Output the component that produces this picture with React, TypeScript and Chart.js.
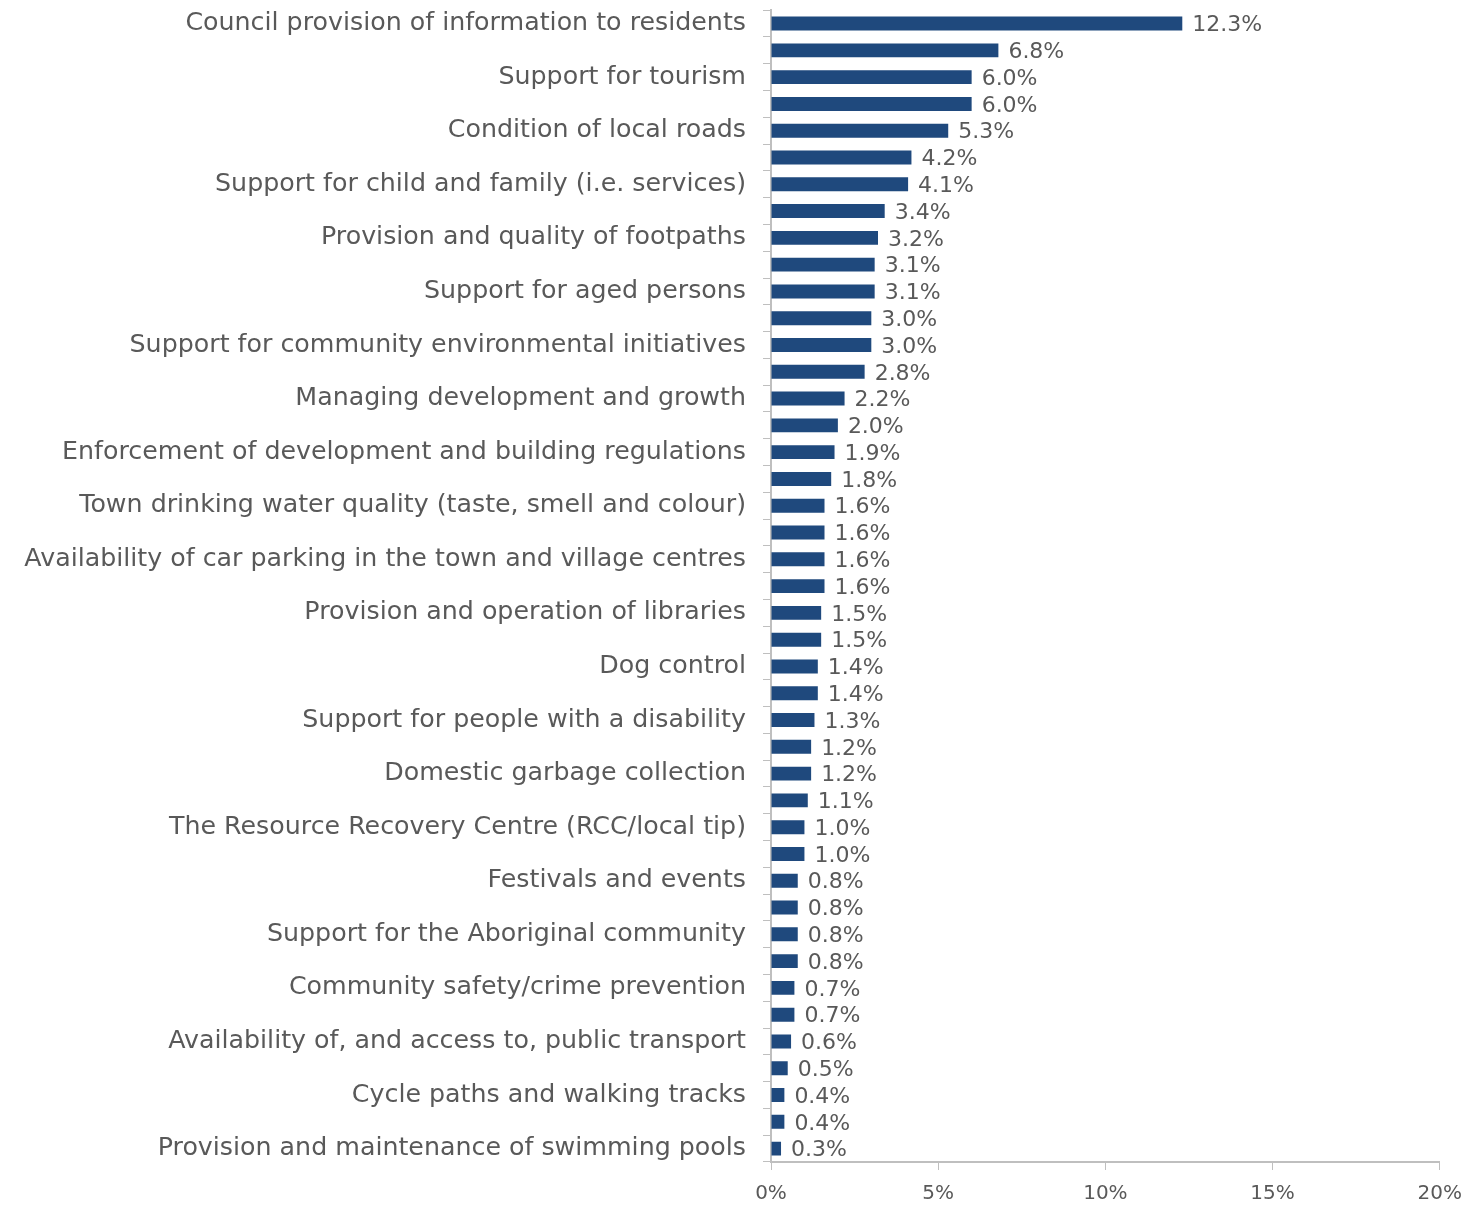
import React, { useEffect, useRef } from "react";
import { Chart, registerables } from "chart.js";

Chart.register(...registerables);

const categories: string[] = [
  "Council provision of information to residents", "",
  "Support for tourism", "",
  "Condition of local roads", "",
  "Support for child and family (i.e. services)", "",
  "Provision and quality of footpaths", "",
  "Support for aged persons", "",
  "Support for community environmental initiatives", "",
  "Managing development and growth", "",
  "Enforcement of development and building regulations", "",
  "Town drinking water quality (taste, smell and colour)", "",
  "Availability of car parking in the town and village centres", "",
  "Provision and operation of libraries", "",
  "Dog control", "",
  "Support for people with a disability", "",
  "Domestic garbage collection", "",
  "The Resource Recovery Centre (RCC/local tip)", "",
  "Festivals and events", "",
  "Support for the Aboriginal community", "",
  "Community safety/crime prevention", "",
  "Availability of, and access to, public transport", "",
  "Cycle paths and walking tracks", "",
  "Provision and maintenance of swimming pools",
];

const values: number[] = [
  12.3, 6.8, 6.0, 6.0, 5.3, 4.2, 4.1, 3.4, 3.2, 3.1, 3.1, 3.0, 3.0, 2.8, 2.2,
  2.0, 1.9, 1.8, 1.6, 1.6, 1.6, 1.6, 1.5, 1.5, 1.4, 1.4, 1.3, 1.2, 1.2, 1.1,
  1.0, 1.0, 0.8, 0.8, 0.8, 0.8, 0.7, 0.7, 0.6, 0.5, 0.4, 0.4, 0.3,
];

const xTicks: number[] = [0, 5, 10, 15, 20];

const FONT = "'DejaVu Sans', sans-serif";
const TEXT = "#595959";
const BAR = "#1F497D";
const AXIS = "#BFBFBF";

const labelPlugin = {
  id: "valueLabels",
  afterDatasetsDraw(chart: any) {
    const ctx = chart.ctx;
    const meta = chart.getDatasetMeta(0);
    ctx.save();
    ctx.font = `22px ${FONT}`;
    ctx.fillStyle = TEXT;
    ctx.textAlign = "left";
    ctx.textBaseline = "middle";
    meta.data.forEach((bar: any, i: number) => {
      const v = chart.data.datasets[0].data[i] as number;
      ctx.fillText(v.toFixed(1) + "%", bar.x + 10, bar.y + 2);
    });
    ctx.restore();
  },
};

export default function App() {
  const ref = useRef<HTMLCanvasElement>(null);
  useEffect(() => {
    document.body.style.margin = "0";
    if (!ref.current) return;
    const chart = new Chart(ref.current, {
      type: "bar",
      data: {
        labels: categories,
        datasets: [
          {
            data: values,
            backgroundColor: BAR,
            borderWidth: 0,
            barPercentage: 0.52,
            categoryPercentage: 1,
          },
        ],
      },
      options: {
        indexAxis: "y",
        animation: false,
        responsive: true,
        maintainAspectRatio: false,
        layout: { padding: 0 },
        plugins: { legend: { display: false }, tooltip: { enabled: false } },
        scales: {
          x: {
            min: 0,
            max: 20,
            afterBuildTicks: (axis: any) => {
              axis.ticks = xTicks.map((v) => ({ value: v }));
            },
            ticks: {
              color: TEXT,
              font: { family: FONT, size: 20 },
              padding: 12,
              callback: (v: any) => v + "%",
            },
            grid: {
              drawOnChartArea: false,
              drawTicks: true,
              tickLength: 8,
              color: AXIS,
            },
            border: { display: true, color: AXIS, width: 2 },
            afterFit: (axis: any) => {
              axis.height = 45;
            },
          },
          y: {
            ticks: {
              autoSkip: false,
              color: TEXT,
              font: { family: FONT, size: 25.3 },
              padding: 17,
            },
            grid: {
              offset: true,
              drawOnChartArea: false,
              drawTicks: true,
              tickLength: 8,
              color: AXIS,
            },
            border: { display: true, color: AXIS, width: 2 },
            afterFit: (axis: any) => {
              axis.width = 771;
            },
          },
        },
      },
      plugins: [labelPlugin],
    });
    return () => chart.destroy();
  }, []);
  return (
    <div
      style={{
        width: 1476,
        height: 1205,
        position: "relative",
        overflow: "hidden",
      }}
    >
      <div style={{ position: "absolute", left: 0, top: -22, width: 1474, height: 1229 }}>
        <canvas ref={ref} />
      </div>
    </div>
  );
}
